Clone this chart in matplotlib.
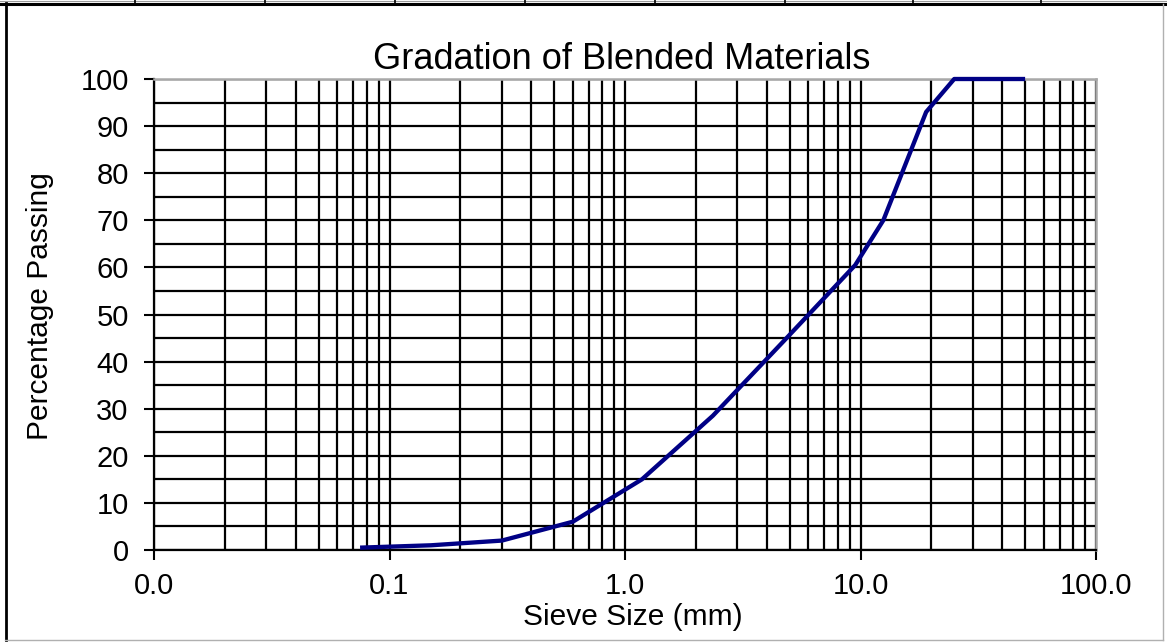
import matplotlib
matplotlib.use("Agg")
import matplotlib.pyplot as plt
from matplotlib.lines import Line2D
from matplotlib.ticker import FixedLocator, FixedFormatter, NullFormatter
import numpy as np

# Sieve analysis of the blended aggregate
sieve_mm = [0.075, 0.15, 0.3, 0.6, 1.18, 2.36, 4.75, 9.5, 12.5, 19.0, 25.0, 37.5, 50.0]
percent_passing = [0.5, 1.0, 2.0, 6.0, 15.0, 28.5, 44.5, 60.5, 70.0, 93.0, 100.0, 100.0, 100.0]

x_major = [0.01, 0.1, 1.0, 10.0, 100.0]
x_labels = ["0.0", "0.1", "1.0", "10.0", "100.0"]
y_major = list(range(0, 101, 10))
y_minor = list(range(5, 100, 10))

title = "Gradation of Blended Materials"
xlabel = "Sieve Size (mm)"
ylabel = "Percentage Passing"

plt.rcParams["font.family"] = ["Liberation Sans", "DejaVu Sans"]

W, H = 1167, 642
fig = plt.figure(figsize=(W / 100, H / 100), dpi=100)
fig.patch.set_facecolor("white")


def fx(px):
    return px / W


def fy(py):
    return 1 - py / H


ax = fig.add_axes([fx(154), fy(550), fx(1096 - 154), (550 - 79) / H])
ax.set_xscale("log")
ax.set_xlim(0.01, 100)
ax.set_ylim(0, 100)

x_minor = [m * d for d in (0.01, 0.1, 1.0, 10.0) for m in range(2, 10)]
ax.xaxis.set_major_locator(FixedLocator(x_major))
ax.xaxis.set_major_formatter(FixedFormatter(x_labels))
ax.xaxis.set_minor_locator(FixedLocator(x_minor))
ax.xaxis.set_minor_formatter(NullFormatter())
ax.yaxis.set_major_locator(FixedLocator(y_major))
ax.yaxis.set_minor_locator(FixedLocator(y_minor))

ax.grid(True, which="both", color="black", linewidth=1.6)
ax.tick_params(which="major", direction="out", length=7.2, width=1.5,
               color="black", labelsize=21, labelcolor="black")
ax.tick_params(axis="y", which="major", pad=11)
ax.tick_params(axis="x", which="major", pad=9)
ax.tick_params(which="minor", length=0)

for side in ("left", "bottom"):
    ax.spines[side].set_color("black")
    ax.spines[side].set_linewidth(1.6)
for side in ("top", "right"):
    ax.spines[side].set_color("#a8a8a8")
    ax.spines[side].set_linewidth(1.8)

ax.plot(sieve_mm, percent_passing, color="#000085", linewidth=3.1,
        solid_joinstyle="round", solid_capstyle="butt", clip_on=False, zorder=3)

fig.text(fx(622), fy(69), title, ha="center", va="baseline",
         fontsize=26, color="black")
fig.text(fx(633), fy(625), xlabel, ha="center", va="baseline",
         fontsize=21.5, color="black")
fig.text(fx(40), fy(306), ylabel, ha="center", va="center",
         rotation=90, fontsize=21.5, color="black")

# surrounding frame of the sheet cell
frame = [
    ((0, W), (4, 4), "black", 2.2),
    ((5.5, 5.5), (3, 640), "black", 2.0),
    ((1163, 1163), (4, 640), "#b0b0b0", 1.0),
    ((5, 1163), (640, 640), "#b0b0b0", 1.0),
    ((0, W), (0.5, 0.5), "#9a9a9a", 0.8),
]
for xs, ys, col, lw in frame:
    fig.add_artist(Line2D([fx(v) for v in xs], [fy(v) for v in ys],
                          transform=fig.transFigure, color=col, linewidth=lw))
for xd in (135, 265, 395, 525, 655, 785, 913, 1041):
    fig.add_artist(Line2D([fx(xd), fx(xd)], [fy(0), fy(4)],
                          transform=fig.transFigure, color="black", linewidth=1.2))

fig.savefig("out.png", dpi=100, facecolor="white")
